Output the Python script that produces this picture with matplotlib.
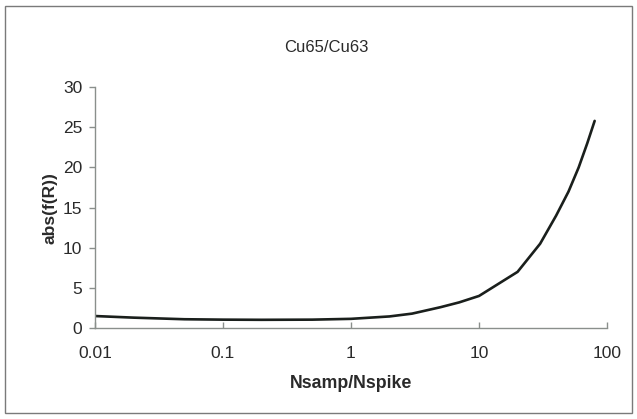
import numpy as np
import matplotlib.pyplot as plt
from matplotlib.patches import Rectangle
from matplotlib.ticker import FixedLocator, NullLocator

plt.rcParams['font.family'] = ['Liberation Sans', 'DejaVu Sans']

# error magnification curve for Cu65/Cu63
ratio = [0.01, 0.02, 0.05, 0.1, 0.2, 0.5, 1, 2, 3, 5, 7, 10, 20, 30, 40, 50, 60, 70, 80]
abs_fR = [1.5, 1.3, 1.1, 1.05, 1.03, 1.05, 1.15, 1.45, 1.8, 2.6, 3.2, 4.0,
          7.0, 10.5, 14.0, 17.0, 20.0, 23.0, 25.8]
xticks = [0.01, 0.1, 1, 10, 100]
xtick_labels = ['0.01', '0.1', '1', '10', '100']
yticks = [0, 5, 10, 15, 20, 25, 30]

fig = plt.figure(figsize=(6.37, 4.19), dpi=100)
ax = fig.add_axes([0.149, 0.217, 0.804, 0.575])

ax.plot(ratio, abs_fR, color='#1a1f1c', lw=1.9, solid_capstyle='round')

ax.set_xscale('log')
ax.set_xlim(0.01, 100)
ax.set_ylim(0, 30)
ax.xaxis.set_major_locator(FixedLocator(xticks))
ax.xaxis.set_minor_locator(NullLocator())
ax.set_xticklabels(xtick_labels)
ax.set_yticks(yticks)

for s in ['top', 'right']:
    ax.spines[s].set_visible(False)
for s in ['left', 'bottom']:
    ax.spines[s].set_color('#8a8f8c')
    ax.spines[s].set_linewidth(1.0)
ax.tick_params(axis='both', colors='#8a8f8c', labelcolor='#2a2a2a',
               labelsize=12.5, length=4, width=1.0)
ax.tick_params(axis='x', direction='in', pad=13)
ax.tick_params(axis='y', direction='out', pad=5)

ax.set_xlabel('Nsamp/Nspike', fontsize=12.8, fontweight='bold', color='#2a2a2a', labelpad=10)
ax.set_ylabel('abs(f(R))', fontsize=12.5, fontweight='bold', color='#2a2a2a', labelpad=4)
fig.text(0.512, 0.886, 'Cu65/Cu63', ha='center', va='center', fontsize=12, color='#2a2a2a')

# chart area border
fig.patches.append(Rectangle((0.008, 0.014), 0.984, 0.972, transform=fig.transFigure,
                             fill=False, edgecolor='#7a7a7a', lw=1.0))

fig.savefig('out.png', dpi=100)
